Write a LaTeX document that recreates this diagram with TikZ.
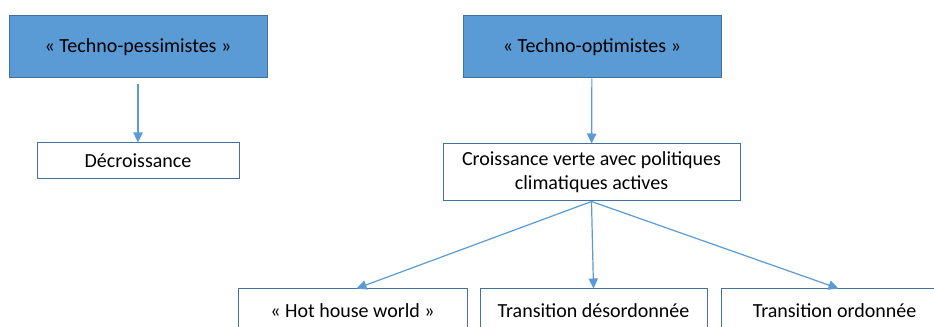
\documentclass[tikz,border=0pt]{standalone}
\usepackage{fontspec}
\setmainfont{Carlito}
\usetikzlibrary{arrows.meta}
\definecolor{boxblue}{HTML}{5B9BD5}
\definecolor{edgeblue}{HTML}{41719C}

\begin{document}
\begin{tikzpicture}[x=0.75pt, y=-0.75pt]

\tikzstyle{camp}=[rectangle, draw=edgeblue, fill=boxblue, line width=0.75pt, inner sep=0pt, minimum width=193.5pt, minimum height=46.5pt, font=\fontsize{15}{18}\selectfont]
\tikzstyle{scenario}=[rectangle, draw=edgeblue, fill=white, line width=0.75pt, inner sep=0pt, align=center, font=\fontsize{15}{18}\selectfont]

\tikzstyle{connect}=[-{Triangle[length=7.5pt, width=7pt]}, color=boxblue, line width=0.9pt]

\clip (0,0) rectangle (934,327);
\fill[white] (0,0) rectangle (934,327);

\node[camp] (pess) at (138,47)  {« Techno-pessimistes »};
\node[camp] (opt) at (592,47)  {« Techno-optimistes »};

\node[scenario, minimum width=151.5pt, minimum height=27pt] (decr) at (138,161)  {Décroissance};
\node[scenario, minimum width=222.75pt, minimum height=42.75pt] (crois) at (591.5,172.5)  {Croissance verte avec politiques\\climatiques actives};

\node[scenario, minimum width=171.75pt, minimum height=33pt] (hot) at (352.5,311)  {« Hot house world »};
\node[scenario, minimum width=170.25pt, minimum height=33pt] (desord) at (593.5,311)  {Transition désordonnée};
\node[scenario, minimum width=170.25pt, minimum height=33pt] (ord) at (834.5,311)  {Transition ordonnée};

\draw[connect, shorten <=4.5pt] (pess) -- (decr);
\draw[connect] (opt) -- (crois);

\draw[connect] (crois.south) -- ([xshift=3pt]hot.north);
\draw[connect] (crois.south) -- (desord.north);
\draw[connect] (crois.south) -- ([xshift=3pt]ord.north);

\end{tikzpicture}
\end{document}
